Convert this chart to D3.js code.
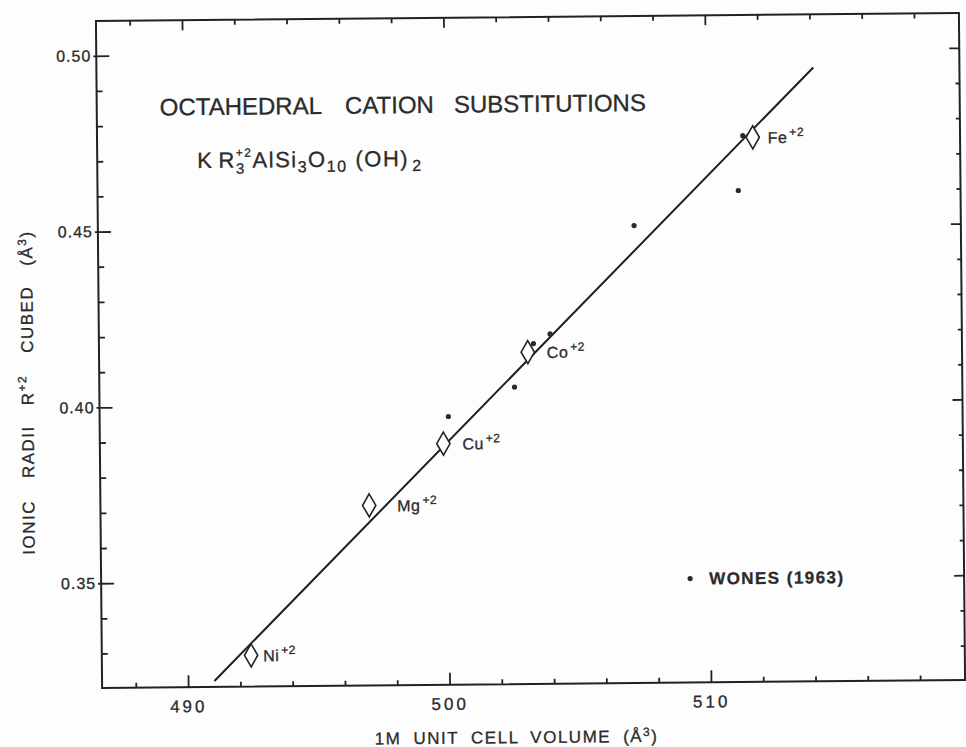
<!DOCTYPE html>
<html>
<head>
<meta charset="utf-8">
<title>Octahedral cation substitutions</title>
<style>
  body { margin: 0; background: #fdfdfd; }
  svg { display: block; background: #fdfdfd; }
  text { font-family: "Liberation Sans", Arial, sans-serif; fill: #2b2b2b; stroke: #2b2b2b; stroke-width: 0.3px; }
  .frame { fill: none; stroke: #222; stroke-width: 2; }
  .tick line { stroke: #222; stroke-width: 1.8; }
  .xlab text { font-size: 17px; letter-spacing: 3px; }
  .ylab text { font-size: 16px; letter-spacing: 1px; }
  .fit { fill: none; stroke: #1e1e1e; stroke-width: 2; }
  .cation { fill: #fff; stroke: #222; stroke-width: 1.6; }
  .wones { fill: #2a2a2a; }
  .lbl { font-size: 16px; letter-spacing: 0.5px; }
</style>
<script src="https://d3js.org/d3.v7.min.js"></script>
</head>
<body>
<svg width="966" height="747"></svg>
<script>
// cations of this study: 1M cell volume against (ionic radius)^3
var cationNames = ["Ni", "Mg", "Cu", "Co", "Fe"];
var cationVolume = [492.42, 496.99, 499.85, 503.11, 511.79];
var cationRadius3 = [0.3291, 0.3714, 0.3888, 0.4146, 0.4751];

// Wones (1963) points
var wonesVolume = [500.05, 502.59, 503.33, 503.97, 507.22, 511.22, 511.41];
var wonesRadius3 = [0.3965, 0.4047, 0.4170, 0.4197, 0.4503, 0.4600, 0.4756];

// end points of the fitted line
var fitVolume = [491.01, 514.13];
var fitRadius3 = [0.3219, 0.4948];

// ticks
var xMajor = [490, 500, 510];
var xMinor = [488, 492, 494, 496, 498, 502, 504, 506, 508, 512, 514, 516, 518];
var yMajor = [0.35, 0.40, 0.45, 0.50];
var yMinor = [0.33, 0.34, 0.36, 0.37, 0.38, 0.39, 0.41, 0.42, 0.43, 0.44, 0.46, 0.47, 0.48, 0.49];

// label offsets (px) right of each diamond
var labelDx = {Ni: 12, Mg: 28, Cu: 19, Co: 19, Fe: 15};

var svg = d3.select("svg"),
    plot = {left: 99, right: 962, top: 17, bottom: 684};

// the scanned figure sits slightly rotated on the page
var g = svg.append("g").attr("transform", "rotate(-0.53,530,350)");

var x = d3.scaleLinear().domain([486.71, 519.72]).range([plot.left, plot.right]);
var y = d3.scaleLinear().domain([0.3202, 0.5099]).range([plot.bottom, plot.top]);

function clean(sel) {
  sel.attr("font-size", null).attr("font-family", null);
  sel.select(".domain").remove();
}

// write text made of parts: {t, s:"sup"|"sub", gap, stack}
function rich(text, parts) {
  var level = 0, extra = 0, lastW = 0;
  parts.forEach(function(p) {
    var want = p.s === "sup" ? -p.up : p.s === "sub" ? p.down : 0;
    var ts = text.append("tspan").attr("dy", want - level).text(p.t);
    if (p.s) ts.attr("font-size", p.fs);
    var dx = (p.gap || 0) + extra;
    extra = 0;
    if (p.stack) dx -= lastW;
    if (dx) ts.attr("dx", dx);
    var w = ts.node().getComputedTextLength();
    if (p.stack && lastW > w) extra = lastW - w;
    lastW = w;
    level = want;
  });
}

// bottom axis
g.append("g").attr("transform", "translate(0," + plot.bottom + ")")
  .call(d3.axisBottom(x).tickValues(xMinor).tickSize(-5).tickFormat(""))
  .call(clean);
g.append("g").attr("class", "xlab").attr("transform", "translate(0," + plot.bottom + ")")
  .call(d3.axisBottom(x).tickValues(xMajor).tickSize(-12).tickPadding(13).tickFormat(d3.format("d")))
  .call(clean);

// top axis (mirror ticks)
g.append("g").attr("transform", "translate(0," + plot.top + ")")
  .call(d3.axisTop(x).tickValues(xMinor).tickSize(-5).tickFormat(""))
  .call(clean);
g.append("g").attr("transform", "translate(0," + plot.top + ")")
  .call(d3.axisTop(x).tickValues(xMajor).tickSize(-10).tickFormat(""))
  .call(clean);

// left axis
g.append("g").attr("transform", "translate(" + plot.left + ",0)")
  .call(d3.axisLeft(y).tickValues(yMinor).tickSize(-6).tickFormat(""))
  .call(clean);
g.append("g").attr("class", "ylab").attr("transform", "translate(" + plot.left + ",0)")
  .call(d3.axisLeft(y).tickValues(yMajor).tickSize(-13).tickPadding(5).tickFormat(d3.format(".2f")))
  .call(clean)
  .selectAll(".tick line").attr("x1", -3);

// right axis (mirror ticks)
g.append("g").attr("transform", "translate(" + plot.right + ",0)")
  .call(d3.axisRight(y).tickValues(yMinor).tickSize(-4).tickFormat(""))
  .call(clean);
g.append("g").attr("transform", "translate(" + plot.right + ",0)")
  .call(d3.axisRight(y).tickValues(yMajor).tickSize(-10).tickFormat(""))
  .call(clean);

g.append("rect").attr("class", "frame")
  .attr("x", plot.left).attr("y", plot.top)
  .attr("width", plot.right - plot.left).attr("height", plot.bottom - plot.top);

// fitted line
var fit = fitVolume.map(function(v, i) { return [v, fitRadius3[i]]; });
g.append("path").attr("class", "fit")
  .attr("d", d3.line().x(function(d) { return x(d[0]); }).y(function(d) { return y(d[1]); })(fit));

// Wones (1963) dots
g.selectAll(".wones").data(wonesVolume).enter()
  .append("circle").attr("class", "wones")
  .attr("cx", function(d) { return x(d); })
  .attr("cy", function(d, i) { return y(wonesRadius3[i]); })
  .attr("r", 2.6);

// diamonds for this work
var diamond = d3.symbol().type(d3.symbolDiamond).size(153);
g.selectAll(".cation").data(cationNames).enter()
  .append("path").attr("class", "cation")
  .attr("transform", function(d, i) { return "translate(" + x(cationVolume[i]) + "," + y(cationRadius3[i]) + ")"; })
  .attr("d", diamond);

cationNames.forEach(function(name, i) {
  var t = g.append("text").attr("class", "lbl")
    .attr("x", x(cationVolume[i]) + labelDx[name])
    .attr("y", y(cationRadius3[i]) + 6);
  rich(t, [{t: name}, {t: "+2", s: "sup", up: 7, fs: 12, gap: 2}]);
});

// title and formula
var title = g.append("text").attr("x", 162).attr("y", 112).style("font-size", "24px");
rich(title, [{t: "OCTAHEDRAL"}, {t: "CATION", gap: 23}, {t: "SUBSTITUTIONS", gap: 20}]);

var formula = g.append("text").attr("x", 199).attr("y", 165)
  .style("font-size", "22px").style("letter-spacing", "1.5px");
rich(formula, [
  {t: "K"}, {t: "R", gap: 5},
  {t: "+2", s: "sup", up: 11, fs: 12},
  {t: "3", s: "sub", down: 6, fs: 15, stack: true},
  {t: "AlSi"},
  {t: "3", s: "sub", down: 5, fs: 16},
  {t: "O"},
  {t: "10", s: "sub", down: 5, fs: 16},
  {t: "(OH)", gap: 8},
  {t: "2", s: "sub", down: 5, fs: 16, gap: 3}
]);

// axis titles
var xt = g.append("text").attr("x", 513).attr("y", 743).attr("text-anchor", "middle")
  .style("font-size", "17px").style("letter-spacing", "1.5px");
rich(xt, [
  {t: "1M"}, {t: "UNIT", gap: 12}, {t: "CELL", gap: 12}, {t: "VOLUME", gap: 12},
  {t: "(Å", gap: 12}, {t: "3", s: "sup", up: 6, fs: 12}, {t: ")"}
]);

var yt = g.append("text").attr("transform", "translate(33,388) rotate(-90)")
  .attr("text-anchor", "middle")
  .style("font-size", "17px").style("letter-spacing", "1.5px");
rich(yt, [
  {t: "IONIC"}, {t: "RADII", gap: 22}, {t: "R", gap: 20},
  {t: "+2", s: "sup", up: 7, fs: 12}, {t: "CUBED", gap: 22},
  {t: "(Å", gap: 20}, {t: "3", s: "sup", up: 6, fs: 12}, {t: ")"}
]);

// legend
g.append("circle").attr("class", "wones").attr("cx", 688).attr("cy", 580).attr("r", 2.6);
g.append("text").attr("x", 707).attr("y", 586)
  .attr("textLength", 134).attr("lengthAdjust", "spacing")
  .style("font-size", "17px").style("font-weight", "bold")
  .text("WONES (1963)");
</script>
</body>
</html>
